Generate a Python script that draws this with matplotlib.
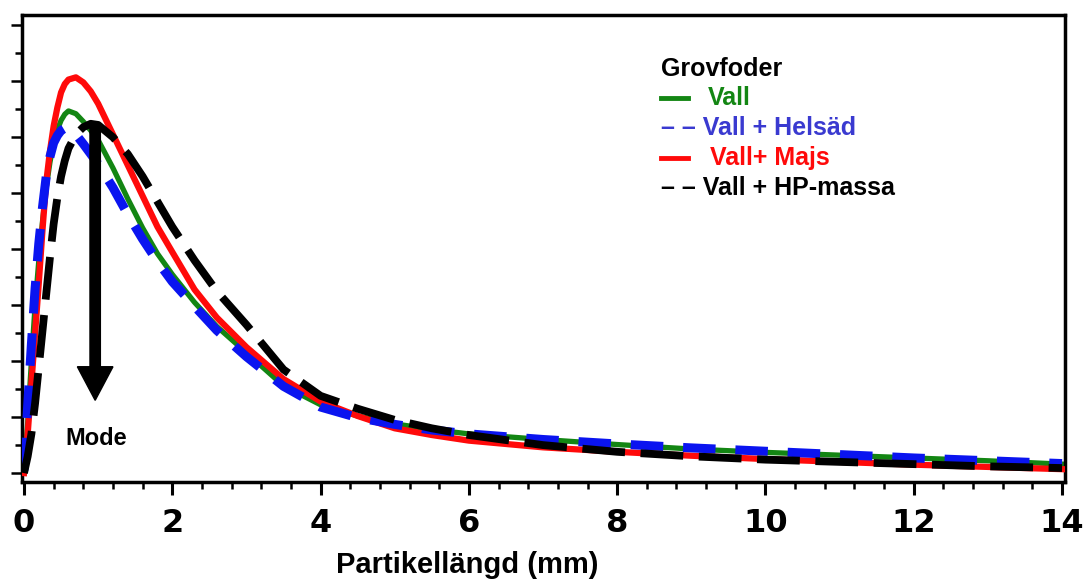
import numpy as np
import matplotlib
matplotlib.use("Agg")
import matplotlib.pyplot as plt
from matplotlib.lines import Line2D
from matplotlib.ticker import MultipleLocator, NullFormatter

# -------------------------
# Data (particle length distribution)
# -------------------------
x = [0, 0.05, 0.1, 0.15, 0.2, 0.25, 0.3, 0.35, 0.4, 0.45, 0.5, 0.55, 0.6,
     0.7, 0.8, 0.9, 1.0, 1.2, 1.4, 1.6, 1.8, 2.0, 2.3, 2.6, 3.0, 3.5,
     4.0, 4.5, 5.0, 5.5, 6, 7, 8, 9, 10, 11, 12, 13, 14]

vall = [0, 0.9, 2.0, 3.0, 3.8, 4.5, 5.1, 5.55, 5.9, 6.13, 6.3, 6.41, 6.47,
        6.42, 6.28, 6.12, 5.95, 5.45, 4.9, 4.38, 3.92, 3.55, 3.05, 2.62, 2.15, 1.56,
        1.22, 1.02, 0.88, 0.78, 0.7, 0.6, 0.51, 0.43, 0.37, 0.32, 0.27, 0.22, 0.16]

helsad = [0.05, 1.2, 2.3, 3.3, 4.1, 4.75, 5.3, 5.65, 5.9, 6.03, 6.12, 6.16, 6.18,
          6.05, 5.88, 5.7, 5.52, 5.1, 4.62, 4.18, 3.78, 3.42, 2.98, 2.55, 2.08, 1.55,
          1.18, 0.99, 0.87, 0.77, 0.7, 0.6, 0.52, 0.45, 0.39, 0.33, 0.27, 0.22, 0.17]

majs = [0, 0.7, 1.6, 2.5, 3.4, 4.35, 5.2, 5.75, 6.2, 6.53, 6.8, 6.95, 7.03,
        7.07, 6.98, 6.82, 6.6, 6.05, 5.5, 4.95, 4.4, 3.95, 3.28, 2.78, 2.25, 1.68,
        1.28, 1.02, 0.8, 0.68, 0.58, 0.46, 0.38, 0.31, 0.25, 0.2, 0.15, 0.11, 0.07]

hp_massa = [0, 0.3, 0.7, 1.25, 1.9, 2.55, 3.2, 3.85, 4.45, 4.92, 5.3, 5.58, 5.8,
            6.05, 6.18, 6.24, 6.22, 6.0, 5.7, 5.3, 4.85, 4.4, 3.8, 3.25, 2.65, 1.85,
            1.38, 1.15, 0.95, 0.8, 0.68, 0.5, 0.38, 0.3, 0.24, 0.2, 0.16, 0.12, 0.09]

mode_x = 0.96
mode_top = 6.25
mode_tip = 1.3

GREEN = "#138613"
BLUE = "#0a14f0"
RED = "#ff0a0a"
FONT = "Liberation Sans"

fig = plt.figure(figsize=(10.83, 5.85), dpi=100)
ax = fig.add_axes([0.0203, 0.176, 0.9631, 0.798])

ax.plot(x, vall, color=GREEN, lw=3.8, zorder=2)
ax.plot(x, majs, color=RED, lw=4.5, zorder=3)
ax.plot(x, helsad, color=BLUE, lw=6.5, dashes=(3.6, 2.2), zorder=4)
ax.plot(x, hp_massa, color="black", lw=5.6, dashes=(5.5, 2.0), zorder=5)

# mode arrow
ax.arrow(mode_x, mode_top, 0, mode_tip - mode_top, width=0.14, head_width=0.48,
         head_length=0.6, length_includes_head=True, color="black", zorder=6)
ax.text(0.98, 0.62, "Mode", ha="center", va="center", fontsize=17,
        fontweight="bold", family=FONT)

ax.set_xlim(-0.027, 14.04)
ax.set_ylim(-0.16, 8.18)

ax.xaxis.set_major_locator(MultipleLocator(2))
ax.xaxis.set_minor_locator(MultipleLocator(0.4))
ax.yaxis.set_major_locator(MultipleLocator(1))
ax.yaxis.set_minor_locator(MultipleLocator(0.5))
ax.yaxis.set_major_formatter(NullFormatter())

ax.tick_params(axis="x", which="major", length=9, width=2.2, direction="out",
               pad=10, labelsize=23)
ax.tick_params(axis="x", which="minor", length=5, width=1.8, direction="out")
ax.tick_params(axis="y", which="major", length=8, width=1.8, direction="out")
ax.tick_params(axis="y", which="minor", length=5, width=1.8, direction="out")
for lab in ax.get_xticklabels():
    lab.set_fontweight("heavy")
    lab.set_family("DejaVu Sans")

for s in ax.spines.values():
    s.set_linewidth(2.5)

ax.set_xlabel("Partikellängd (mm)", fontsize=21, fontweight="bold",
              family=FONT)
ax.xaxis.set_label_coords(0.427, -0.148)

# legend drawn by hand, like the original
lx = 0.613
fs = 18
ax.text(lx, 0.885, "Grovfoder", transform=ax.transAxes, fontsize=fs,
        fontweight="bold", family=FONT, va="center")
ax.add_line(Line2D([lx, lx + 0.026], [0.822, 0.822], transform=ax.transAxes,
                   color=GREEN, lw=3.5))
ax.text(lx + 0.045, 0.822, "Vall", transform=ax.transAxes, fontsize=fs,
        fontweight="bold", family=FONT, va="center", color=GREEN)
ax.text(lx, 0.758, "– – Vall + Helsäd", transform=ax.transAxes, fontsize=fs,
        fontweight="bold", family=FONT, va="center", color="#3a3ad0")
ax.add_line(Line2D([lx, lx + 0.026], [0.694, 0.694], transform=ax.transAxes,
                   color=RED, lw=3.5))
ax.text(lx + 0.047, 0.694, "Vall+ Majs", transform=ax.transAxes, fontsize=fs,
        fontweight="bold", family=FONT, va="center", color=RED)
ax.text(lx, 0.630, "– – Vall + HP-massa", transform=ax.transAxes, fontsize=fs,
        fontweight="bold", family=FONT, va="center", color="black")

fig.savefig("out.png", dpi=100)
